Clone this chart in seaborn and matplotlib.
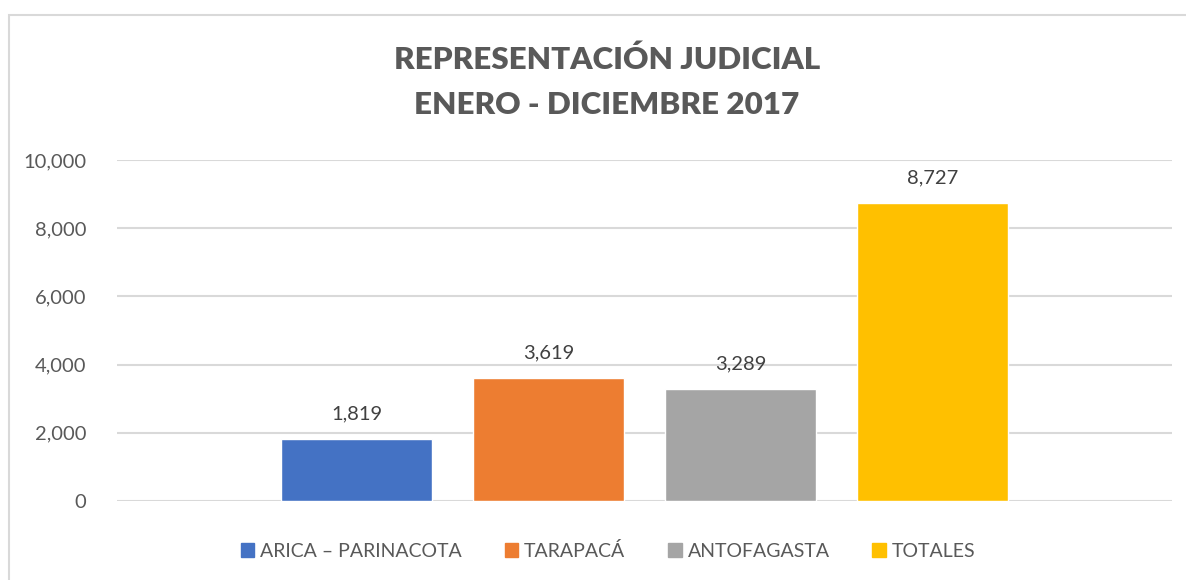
import matplotlib
matplotlib.use("Agg")
import matplotlib.pyplot as plt
import seaborn as sns
import pandas as pd
from matplotlib.patches import Rectangle
from matplotlib.ticker import FuncFormatter

# datos
regiones = ["ARICA – PARINACOTA", "TARAPACÁ", "ANTOFAGASTA", "TOTALES"]
valores = [1819, 3619, 3289, 8727]
colores = ["#4472C4", "#ED7D31", "#A5A5A5", "#FFC000"]

df = pd.DataFrame({"grupo": ["2017"] * len(regiones), "region": regiones, "valor": valores})

sns.set_theme(style="white")
plt.rcParams['font.family'] = ['Lato', 'DejaVu Sans']

W, H = 1186, 580
fig = plt.figure(figsize=(W / 100, H / 100), dpi=100)
ax = fig.add_axes([117 / W, 1 - 501 / H, (1172 - 117) / W, (501 - 160) / H])

sns.barplot(data=df, x="grupo", y="valor", hue="region", palette=colores,
            width=0.728, gap=0.214, ax=ax, legend=False, saturation=1)

ax.set_ylim(0, 10000)
ax.set_xlim(-0.5, 0.5)
ax.set_yticks(range(0, 10001, 2000))
ax.yaxis.set_major_formatter(FuncFormatter(lambda v, p: f"{int(v):,}"))
ax.set_xticks([])
ax.set_xlabel("")
ax.set_ylabel("")
ax.grid(axis="y", color="#d9d9d9", linewidth=1.5)
ax.set_axisbelow(True)
for s in ax.spines.values():
    s.set_visible(False)
ax.tick_params(axis="y", length=0, pad=22, labelsize=14.5, labelcolor="#595959")

for cont in ax.containers:
    ax.bar_label(cont, labels=[f"{int(v):,}" for v in cont.datavalues],
                 padding=12, fontsize=14.5, color="#404040")

# titulo
fig.text(607 / W, 1 - 60 / H, "REPRESENTACIÓN JUDICIAL", ha="center", va="center",
         fontsize=22.6, fontweight="heavy", color="#595959")
fig.text(607 / W, 1 - 105 / H, "ENERO - DICIEMBRE 2017", ha="center", va="center",
         fontsize=22.6, fontweight="heavy", color="#595959")

# leyenda
handles = [Rectangle((0, 0), 1, 1, color=c) for c in colores]
fig.legend(handles, regiones, loc="center", bbox_to_anchor=(608 / W, 1 - 551 / H),
           ncol=4, frameon=False, fontsize=14, handlelength=0.7, handleheight=0.7,
           handletextpad=0.3, columnspacing=2.2, labelcolor="#595959")

# borde del grafico
fig.patches.append(Rectangle((9 / W, -0.05), 1.1, 1 - 15 / H + 0.05, transform=fig.transFigure,
                             fill=False, edgecolor="#d9d9d9", linewidth=1.5))

fig.savefig("out.png", dpi=100)
